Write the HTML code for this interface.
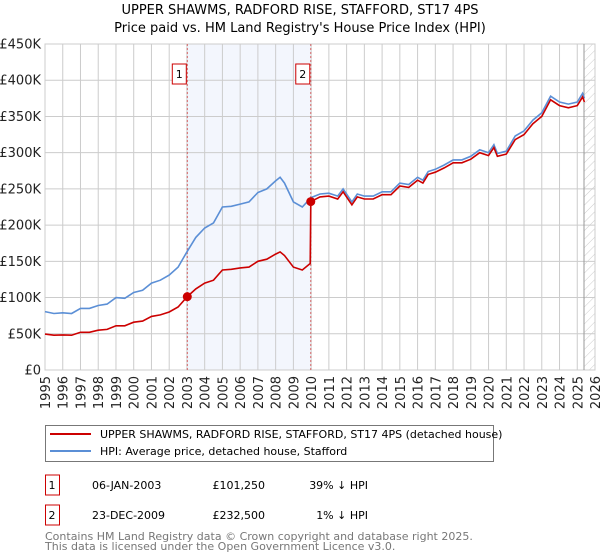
<!DOCTYPE html>
<html><head><meta charset="utf-8">
<style>
body{margin:0;background:#fff;font-family:"DejaVu Sans","Liberation Sans",sans-serif;}
#wrap{position:relative;width:600px;height:560px;overflow:hidden;}
svg text{font-family:"DejaVu Sans","Liberation Sans",sans-serif;}
</style></head>
<body><div id="wrap">
<svg id="chart" width="600" height="560" xmlns="http://www.w3.org/2000/svg"></svg>
</div>
<script>
const hpiDates=[1995.0,1995.5,1996,1996.5,1997,1997.5,1998,1998.5,1999,1999.5,2000,2000.5,2001,2001.5,2002,2002.5,2003,2003.5,2004,2004.5,2005,2005.5,2006,2006.5,2007,2007.5,2008,2008.25,2008.5,2009,2009.5,2010,2010.5,2011,2011.5,2011.8,2012.3,2012.6,2013,2013.5,2014,2014.5,2015,2015.5,2016,2016.3,2016.6,2017,2017.5,2018,2018.5,2019,2019.5,2020,2020.3,2020.5,2021,2021.5,2022,2022.5,2023,2023.5,2024,2024.5,2025,2025.3,2025.4];
const hpiValues=[80.6,78,79,78,85,85,89,91,100,99,107,110,120,124,131,142,163,183,196,203,225,226,229,232,245,250,261,266,258,232,225,238,243,244,240,250,232,243,240,240,246,246,258,256,266,262,274,277,283,290,290,295,304,300,311,299,302,323,330,345,355,378,370,367,370,382,375];
const saleDates=[1995.0,1995.5,1996,1996.5,1997,1997.5,1998,1998.5,1999,1999.5,2000,2000.5,2001,2001.5,2002,2002.5,2003.02,2003.5,2004,2004.5,2005,2005.5,2006,2006.5,2007,2007.5,2008,2008.25,2008.5,2009,2009.5,2009.95,2009.98,2010.5,2011,2011.5,2011.8,2012.3,2012.6,2013,2013.5,2014,2014.5,2015,2015.5,2016,2016.3,2016.6,2017,2017.5,2018,2018.5,2019,2019.5,2020,2020.3,2020.5,2021,2021.5,2022,2022.5,2023,2023.5,2024,2024.5,2025,2025.3,2025.4];
const saleValues=[49.5,48,48.5,48,52,52,55,56,61,61,66,67.5,74,76,80,87,101.25,112,120,124,138,139,141,142,150,153,160,163,158,142,138,147,232.5,239,240,236,246,228,239,236,236,242,242,254,252,262,258,270,273,279,286,286,291,300,296,307,295,298,318,325,340,350,373,365,362,365,377,370];
const yTicks=[0,50,100,150,200,250,300,350,400,450];
const yTickLabels=["£0","£50K","£100K","£150K","£200K","£250K","£300K","£350K","£400K","£450K"];
const xYears=[1995,1996,1997,1998,1999,2000,2001,2002,2003,2004,2005,2006,2007,2008,2009,2010,2011,2012,2013,2014,2015,2016,2017,2018,2019,2020,2021,2022,2023,2024,2025,2026];
const markerDates=[2003.02,2009.98];
const markerValues=[101.25,232.5];
const markerLabels=["1","2"];

const L=45,R=595,T=44,B=370;
const X=y=>L+(y-1995)/(2026-1995)*(R-L);
const Y=v=>B-v/450*(B-T);
const svg=document.getElementById('chart');
const NS="http://www.w3.org/2000/svg";
function mk(tag,attrs,parent){const e=document.createElementNS(NS,tag);for(const k in attrs)e.setAttribute(k,attrs[k]);(parent||svg).appendChild(e);return e;}

let band=mk('rect',{x:X(markerDates[0]),y:T,width:X(markerDates[1])-X(markerDates[0]),height:B-T,fill:'#f3f6fd'});


let defs=mk('defs',{});
let pat=mk('pattern',{id:'hatch',width:6,height:6,patternUnits:'userSpaceOnUse',patternTransform:'rotate(45)'},defs);
mk('line',{x1:0,y1:0,x2:0,y2:6,stroke:'#ccc','stroke-width':1},pat);
let hatch=mk('rect',{x:X(2025.38),y:T,width:R-X(2025.38),height:B-T,fill:'url(#hatch)'});



xYears.forEach(yr=>{
 let g=mk('line',{x1:X(yr),x2:X(yr),y1:T,y2:B,stroke:'#cccccc','stroke-width':1});
 
 
 let t=mk('text',{x:0,y:0,'font-size':13,fill:'#222','text-anchor':'end',transform:`translate(${X(yr)+5},${B+6}) rotate(-90)`});
 t.textContent=yr;
 
 
});
yTicks.forEach((v,i)=>{
 let g=mk('line',{x1:L,x2:R,y1:Y(v),y2:Y(v),stroke:'#cccccc','stroke-width':1});
 
 
 let t=mk('text',{x:L-4,y:Y(v)+4.5,'font-size':13,fill:'#222','text-anchor':'end'});
 t.textContent=yTickLabels[i];
 
 
});
mk('rect',{x:L,y:T,width:R-L,height:B-T,fill:'none',stroke:'#cccccc'});
let lastLine=mk('line',{x1:X(2025.38),x2:X(2025.38),y1:T,y2:B,stroke:'#999','stroke-width':1});



markerDates.forEach((d,i)=>{
 let l=mk('line',{x1:X(d),x2:X(d),y1:T,y2:B,stroke:'#d06060','stroke-width':1,'stroke-dasharray':'2,2'});
 
 
});

function path(ds,vs){return ds.map((d,i)=>(i?'L':'M')+X(d).toFixed(1)+','+Y(vs[i]).toFixed(1)).join(' ');}
let hp=mk('path',{d:path(hpiDates,hpiValues),fill:'none',stroke:'#5b8fd6','stroke-width':1.6});


let sp=mk('path',{d:path(saleDates,saleValues),fill:'none',stroke:'#cc0000','stroke-width':1.6});



markerDates.forEach((d,i)=>{
 let c=mk('circle',{cx:X(d),cy:Y(markerValues[i]),r:4.5,fill:'#cc0000'});
 
 
 let bx=mk('rect',{x:X(d)-15,y:64,width:14,height:20,fill:'#fff',stroke:'#cc0000','stroke-width':1});
 
 
 let t=mk('text',{x:X(d)-8,y:78,'font-size':11,'text-anchor':'middle',fill:'#000'});
 t.textContent=markerLabels[i];
 
 
});

[["UPPER SHAWMS, RADFORD RISE, STAFFORD, ST17 4PS",14],["Price paid vs. HM Land Registry's House Price Index (HPI)",32]].forEach((a,i)=>{
 let t=mk('text',{x:300,y:a[1],'font-size':13,'text-anchor':'middle',fill:'#000'});
 t.textContent=a[0];
 
 
});

let lg=mk('rect',{x:45.5,y:425.5,width:448,height:36,fill:'#fff',stroke:'#777'});


[["#cc0000","UPPER SHAWMS, RADFORD RISE, STAFFORD, ST17 4PS (detached house)",434,'legend-entry-property'],["#5b8fd6","HPI: Average price, detached house, Stafford",451,'legend-entry-hpi']].forEach(a=>{
 let g=mk('g',{});
 
 
 mk('line',{x1:50,x2:91,y1:a[2],y2:a[2],stroke:a[0],'stroke-width':2},g);
 let t=mk('text',{x:100,y:a[2]+4,'font-size':11,fill:'#000'},g);
 t.textContent=a[1];
});

[["1","06-JAN-2003","£101,250","39% ↓ HPI",483],["2","23-DEC-2009","£232,500","1% ↓ HPI",513]].forEach((r,i)=>{
 let g=mk('g',{});
 
 
 mk('rect',{x:45.5,y:r[4]-8,width:14,height:20,fill:'#fff',stroke:'#cc0000'},g);
 let t1=mk('text',{x:52,y:r[4]+6,'font-size':11,'text-anchor':'middle'},g);t1.textContent=r[0];
 let t2=mk('text',{x:92,y:r[4]+6,'font-size':11},g);t2.textContent=r[1];
 let t3=mk('text',{x:265,y:r[4]+6,'font-size':11,'text-anchor':'end'},g);t3.textContent=r[2];
 let t4=mk('text',{x:368,y:r[4]+6,'font-size':11,'text-anchor':'end'},g);t4.textContent=r[3];
});
[["Contains HM Land Registry data © Crown copyright and database right 2025.",540],["This data is licensed under the Open Government Licence v3.0.",550]].forEach((a,i)=>{
 let t=mk('text',{x:45,y:a[1],'font-size':11,fill:'#777'});
 t.textContent=a[0];
 
 
});
</script>
</body></html>
